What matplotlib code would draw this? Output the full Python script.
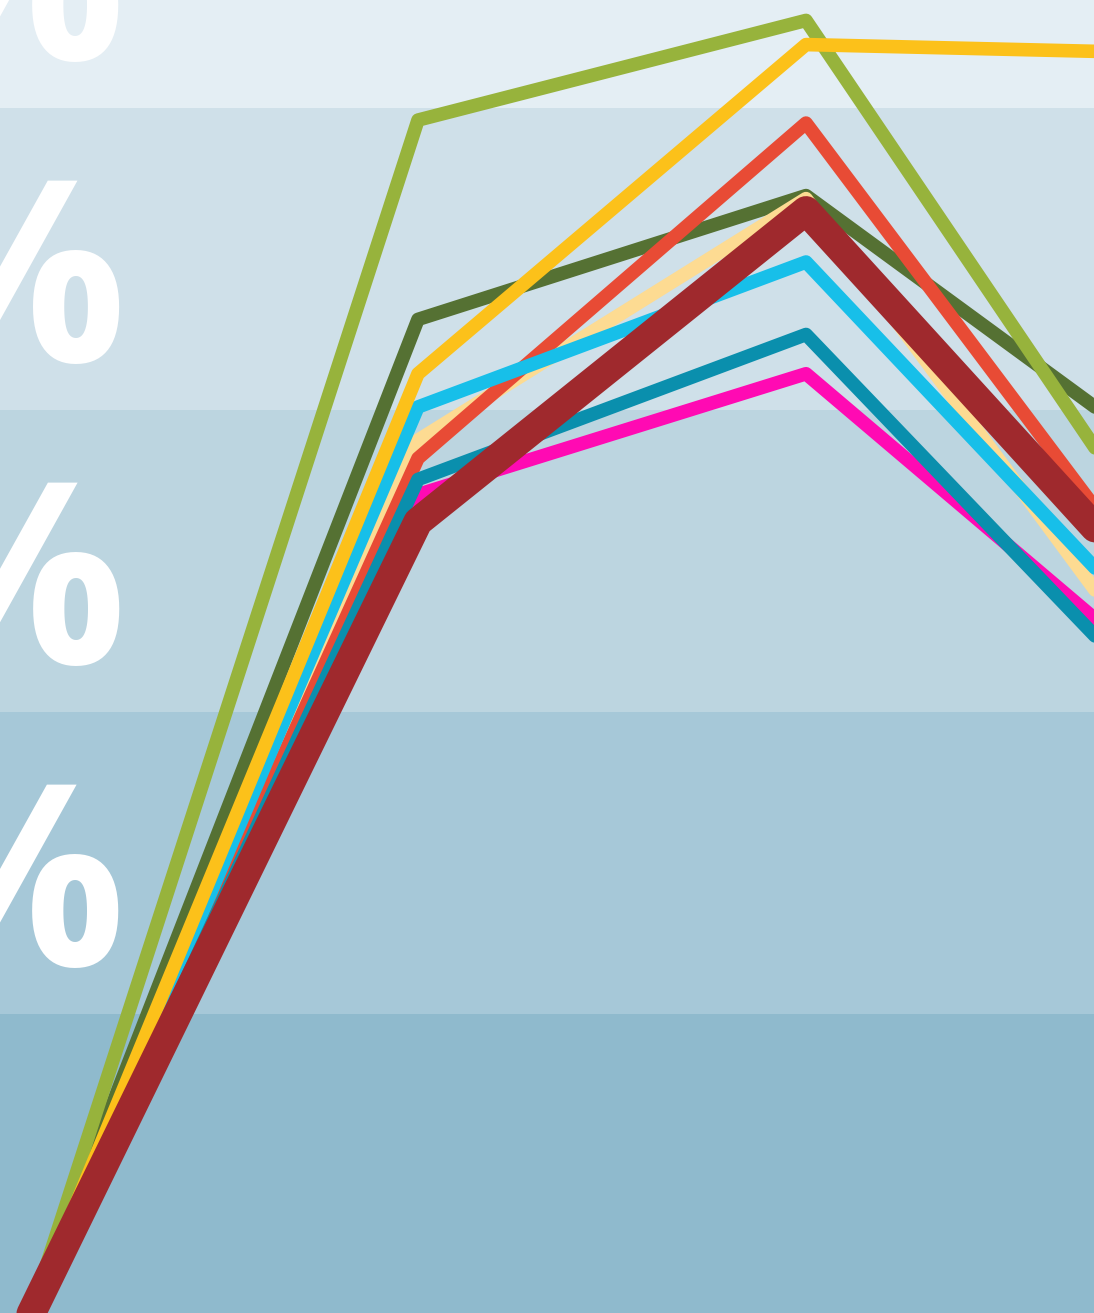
import matplotlib
matplotlib.use("Agg")
import matplotlib.pyplot as plt

# x positions of the data points (last one is off the right edge)
periods = [0, 1, 2, 3]

series = {
    "dark green": [0, 33.0, 37.1, 27.7],
    "green": [0, 39.6, 42.9, 23.9],
    "peach": [0, 29.0, 37.0, 19.6],
    "red": [0, 28.4, 39.5, 22.4],
    "light blue": [0, 30.1, 34.9, 21.3],
    "yellow": [0, 31.2, 42.1, 41.8],
    "magenta": [0, 27.2, 31.2, 20.3],
    "teal": [0, 27.7, 32.5, 19.1],
    "dark red": [0, 26.3, 36.6, 22.5],
}

colors = {
    "dark green": "#557133",
    "green": "#97b33c",
    "peach": "#fddb92",
    "red": "#e84b35",
    "light blue": "#17bfe9",
    "yellow": "#fcc11a",
    "magenta": "#ff0ab3",
    "teal": "#0a8fad",
    "dark red": "#9f292d",
}

band_edges = [0, 10, 20, 30, 40, 50]
band_colors = ["#8fbacd", "#a6c8d8", "#bcd5e0", "#cfe0e9", "#e4eef4"]
label_pos = [10, 20, 30, 40]
label_text = ["10%", "20%", "30%", "40%"]

fig = plt.figure(figsize=(10.94, 13.13), dpi=100)
ax = fig.add_axes([0, 0, 1, 1])

for i in range(len(band_colors)):
    ax.axhspan(band_edges[i], band_edges[i + 1], color=band_colors[i], lw=0, zorder=0)

# big white labels, mostly cut off on the left
for y, t in zip(label_pos, label_text):
    ax.text(0.25, y + 1.6, t, color="white", fontsize=183, fontweight="bold",
            family="Open Sans", ha="right", va="baseline", zorder=1)

for name, vals in series.items():
    lw = 21 if name == "dark red" else 9.8
    ax.plot(periods, vals, color=colors[name], linewidth=lw,
            solid_capstyle="round", solid_joinstyle="round", zorder=2)

ax.set_xlim(-30 / 388, (1094 - 30) / 388)
ax.set_ylim(10 - 299 / 30.2, 40 + 108 / 30.2)
ax.axis("off")

fig.savefig("out.png", dpi=100)
